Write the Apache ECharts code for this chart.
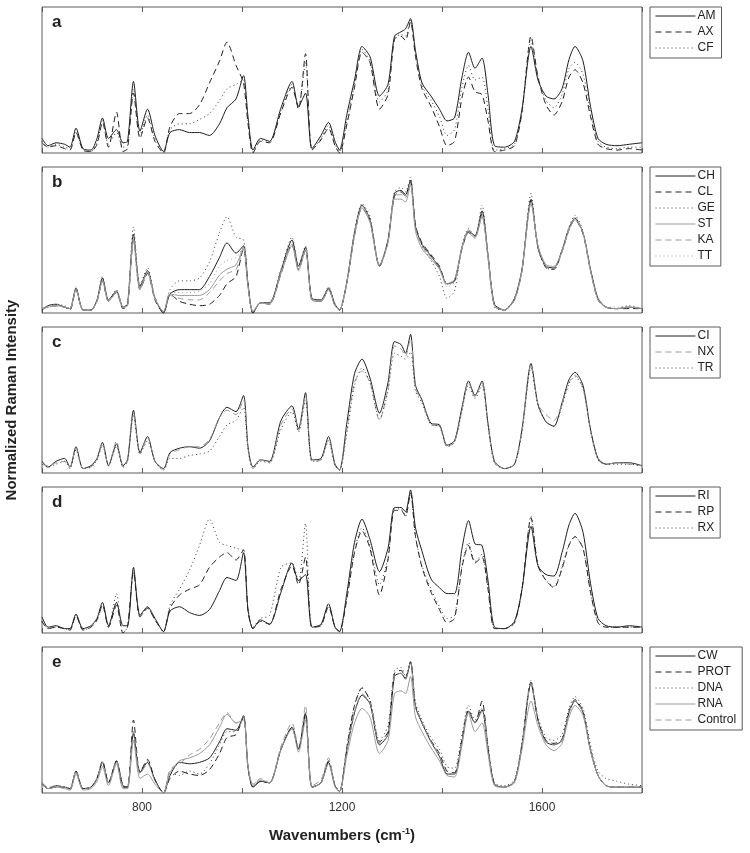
<!DOCTYPE html>
<html>
<head>
<meta charset="utf-8">
<script src="https://cdn.jsdelivr.net/npm/echarts@6/dist/echarts.min.js"></script>
<style>
  html, body { margin: 0; padding: 0; background: #fff; }
  #chart { width: 750px; height: 853px; }
</style>
</head>
<body>
<div id="chart"></div>
<script>
// wavenumber sample points shared by every spectrum (cm-1)
const WN = [
  600, 612, 628, 645, 656, 668, 682, 698, 710, 721,
  733, 749, 762, 771, 783, 796, 811, 826, 843, 856,
  875, 895, 915, 935, 955, 970, 988, 1003, 1012, 1022,
  1037, 1055, 1078, 1100, 1113, 1127, 1140, 1158, 1173, 1186,
  1195, 1210, 1225, 1240, 1256, 1275, 1292, 1305, 1318, 1327,
  1337, 1347, 1360, 1378, 1395, 1410, 1425, 1440, 1453, 1466,
  1480, 1492, 1505, 1525, 1545, 1560, 1578, 1592, 1608, 1624,
  1640, 1654, 1666, 1682, 1697, 1712, 1728, 1750, 1775, 1800
];
const X_TICK_LABELS = [800, 1200, 1600];
const PANEL_LABELS = ['a', 'b', 'c', 'd', 'e'];

// panel a
const AM = [0.10,0.05,0.07,0.06,0.04,0.17,0.03,0.02,0.10,0.24, 0.10,0.16,0.07,0.08,0.49,0.15,0.30,0.12,0.01,0.14,
  0.16,0.14,0.14,0.12,0.20,0.31,0.37,0.53,0.25,0.02, 0.10,0.08,0.31,0.49,0.32,0.41,0.03,0.12,0.21,0.08,
  0.02,0.27,0.50,0.73,0.66,0.39,0.47,0.80,0.83,0.85, 0.92,0.70,0.48,0.39,0.30,0.22,0.24,0.52,0.69,0.58,
  0.65,0.40,0.05,0.04,0.08,0.30,0.73,0.50,0.39,0.37, 0.44,0.64,0.73,0.63,0.32,0.10,0.06,0.05,0.06,0.07];
const AX = [0.07,0.04,0.05,0.03,0.02,0.14,0.02,0.01,0.06,0.21, 0.04,0.28,0.01,0.03,0.41,0.10,0.24,0.08,0.00,0.18,
  0.27,0.27,0.33,0.48,0.63,0.76,0.60,0.48,0.20,0.00, 0.08,0.07,0.28,0.45,0.30,0.68,0.02,0.09,0.17,0.05,
  0.00,0.20,0.45,0.69,0.62,0.30,0.40,0.78,0.80,0.77, 0.90,0.66,0.44,0.32,0.18,0.05,0.08,0.38,0.52,0.42,
  0.40,0.22,0.01,0.02,0.05,0.28,0.80,0.52,0.33,0.26, 0.35,0.52,0.57,0.48,0.25,0.06,0.03,0.02,0.03,0.02];
const CF = [0.08,0.04,0.06,0.04,0.03,0.15,0.02,0.01,0.07,0.22, 0.06,0.14,0.04,0.05,0.44,0.12,0.26,0.10,0.01,0.16,
  0.20,0.20,0.23,0.27,0.36,0.44,0.47,0.50,0.22,0.01, 0.09,0.08,0.29,0.47,0.31,0.62,0.02,0.10,0.19,0.06,
  0.01,0.22,0.47,0.71,0.63,0.35,0.43,0.79,0.81,0.80, 0.91,0.68,0.46,0.36,0.25,0.12,0.16,0.45,0.60,0.50,
  0.52,0.30,0.02,0.03,0.06,0.29,0.77,0.52,0.36,0.31, 0.40,0.58,0.62,0.54,0.28,0.08,0.04,0.03,0.04,0.04];

// panel b
const CH = [0.02,0.05,0.06,0.04,0.03,0.17,0.02,0.02,0.09,0.24, 0.09,0.15,0.04,0.06,0.54,0.18,0.29,0.10,0.00,0.13,
  0.16,0.16,0.16,0.25,0.38,0.48,0.41,0.46,0.20,0.00, 0.07,0.07,0.29,0.50,0.32,0.45,0.10,0.09,0.17,0.06,
  0.02,0.22,0.55,0.74,0.64,0.32,0.50,0.82,0.84,0.81, 0.91,0.59,0.47,0.39,0.31,0.20,0.22,0.45,0.56,0.53,
  0.70,0.40,0.06,0.02,0.10,0.30,0.78,0.45,0.32,0.31, 0.43,0.58,0.65,0.55,0.30,0.10,0.04,0.03,0.04,0.03];
const CL = [0.03,0.04,0.05,0.04,0.02,0.16,0.02,0.02,0.08,0.22, 0.08,0.14,0.03,0.05,0.50,0.16,0.27,0.09,0.00,0.13,
  0.08,0.06,0.05,0.06,0.12,0.20,0.25,0.44,0.19,0.00, 0.07,0.06,0.27,0.47,0.30,0.43,0.09,0.08,0.16,0.05,
  0.02,0.21,0.53,0.72,0.63,0.32,0.49,0.80,0.83,0.80, 0.90,0.60,0.48,0.40,0.32,0.20,0.22,0.44,0.55,0.52,
  0.68,0.39,0.05,0.02,0.09,0.29,0.77,0.45,0.31,0.30, 0.42,0.57,0.64,0.54,0.29,0.09,0.04,0.03,0.03,0.03];
const GE = [0.03,0.05,0.06,0.05,0.03,0.18,0.02,0.02,0.09,0.25, 0.09,0.16,0.04,0.06,0.59,0.19,0.31,0.11,0.00,0.16,
  0.22,0.22,0.24,0.35,0.55,0.66,0.52,0.50,0.20,0.00, 0.07,0.07,0.30,0.52,0.33,0.46,0.09,0.09,0.18,0.06,
  0.02,0.22,0.56,0.75,0.66,0.33,0.50,0.83,0.86,0.83, 0.93,0.60,0.46,0.36,0.25,0.10,0.15,0.46,0.58,0.52,
  0.74,0.38,0.04,0.02,0.10,0.30,0.82,0.44,0.31,0.30, 0.43,0.59,0.67,0.56,0.30,0.09,0.04,0.03,0.05,0.03];
const ST = [0.03,0.04,0.05,0.04,0.03,0.16,0.02,0.02,0.08,0.22, 0.08,0.14,0.04,0.05,0.50,0.16,0.28,0.10,0.01,0.13,
  0.12,0.12,0.12,0.16,0.26,0.30,0.33,0.45,0.18,0.01, 0.07,0.06,0.27,0.46,0.29,0.43,0.09,0.08,0.16,0.05,
  0.02,0.21,0.53,0.72,0.62,0.32,0.48,0.78,0.78,0.76, 0.88,0.56,0.44,0.37,0.30,0.20,0.23,0.45,0.57,0.52,
  0.66,0.38,0.05,0.02,0.09,0.29,0.75,0.46,0.33,0.32, 0.42,0.57,0.64,0.55,0.29,0.09,0.04,0.03,0.04,0.03];
const KA = [0.03,0.04,0.05,0.04,0.03,0.16,0.02,0.02,0.08,0.22, 0.08,0.14,0.04,0.05,0.51,0.17,0.28,0.10,0.01,0.12,
  0.10,0.09,0.09,0.14,0.22,0.27,0.30,0.44,0.18,0.01, 0.07,0.06,0.28,0.47,0.30,0.44,0.09,0.08,0.16,0.05,
  0.02,0.22,0.54,0.73,0.63,0.33,0.49,0.80,0.81,0.79, 0.89,0.58,0.46,0.38,0.30,0.19,0.22,0.44,0.55,0.51,
  0.67,0.39,0.05,0.02,0.09,0.29,0.76,0.46,0.32,0.31, 0.42,0.58,0.65,0.55,0.29,0.09,0.04,0.03,0.04,0.03];
const TT = [0.03,0.05,0.06,0.04,0.03,0.17,0.02,0.02,0.09,0.23, 0.09,0.15,0.04,0.06,0.52,0.17,0.29,0.10,0.01,0.14,
  0.14,0.14,0.15,0.20,0.32,0.36,0.38,0.45,0.19,0.01, 0.07,0.07,0.29,0.48,0.31,0.44,0.09,0.09,0.17,0.06,
  0.02,0.22,0.55,0.74,0.64,0.33,0.50,0.81,0.83,0.80, 0.90,0.60,0.47,0.39,0.31,0.18,0.21,0.45,0.56,0.52,
  0.69,0.39,0.05,0.02,0.10,0.30,0.78,0.46,0.32,0.31, 0.43,0.58,0.66,0.55,0.30,0.10,0.04,0.04,0.05,0.03];

// panel c
const CI = [0.08,0.04,0.08,0.10,0.04,0.18,0.03,0.05,0.10,0.21, 0.05,0.20,0.05,0.09,0.43,0.14,0.25,0.08,0.03,0.14,
  0.17,0.18,0.17,0.22,0.38,0.45,0.42,0.53,0.18,0.04, 0.09,0.08,0.36,0.46,0.30,0.55,0.09,0.10,0.25,0.06,
  0.02,0.35,0.68,0.78,0.65,0.41,0.62,0.90,0.88,0.82, 0.95,0.60,0.50,0.34,0.33,0.19,0.22,0.45,0.63,0.53,
  0.63,0.34,0.08,0.03,0.06,0.30,0.75,0.47,0.35,0.32, 0.48,0.64,0.69,0.60,0.30,0.10,0.06,0.07,0.07,0.05];
const NX = [0.06,0.05,0.07,0.08,0.04,0.17,0.03,0.04,0.09,0.20, 0.05,0.22,0.04,0.08,0.41,0.13,0.24,0.08,0.02,0.13,
  0.16,0.18,0.18,0.23,0.38,0.43,0.40,0.50,0.17,0.03, 0.09,0.07,0.33,0.44,0.29,0.53,0.08,0.09,0.23,0.05,
  0.02,0.30,0.62,0.70,0.62,0.36,0.58,0.87,0.85,0.80, 0.92,0.58,0.49,0.33,0.32,0.18,0.21,0.43,0.62,0.52,
  0.62,0.33,0.07,0.03,0.06,0.29,0.74,0.47,0.40,0.36, 0.47,0.62,0.67,0.58,0.29,0.09,0.06,0.07,0.06,0.05];
const TR = [0.06,0.04,0.06,0.08,0.03,0.16,0.03,0.04,0.09,0.19, 0.05,0.18,0.04,0.08,0.40,0.13,0.22,0.08,0.02,0.10,
  0.10,0.12,0.13,0.15,0.25,0.33,0.36,0.45,0.16,0.03, 0.08,0.07,0.30,0.42,0.28,0.50,0.08,0.09,0.22,0.05,
  0.02,0.28,0.60,0.72,0.62,0.37,0.56,0.82,0.80,0.78, 0.83,0.56,0.48,0.33,0.32,0.18,0.21,0.43,0.60,0.51,
  0.60,0.33,0.07,0.03,0.06,0.28,0.72,0.46,0.35,0.32, 0.46,0.61,0.66,0.58,0.29,0.09,0.06,0.06,0.06,0.05];

// panel d
const RI = [0.11,0.04,0.05,0.03,0.03,0.13,0.03,0.05,0.10,0.21, 0.05,0.21,0.05,0.05,0.45,0.12,0.18,0.10,0.01,0.15,
  0.18,0.14,0.12,0.16,0.29,0.38,0.36,0.55,0.16,0.03, 0.09,0.06,0.28,0.48,0.36,0.40,0.04,0.06,0.20,0.04,
  0.01,0.28,0.62,0.78,0.64,0.42,0.58,0.86,0.86,0.83, 0.98,0.72,0.56,0.37,0.31,0.27,0.27,0.58,0.77,0.61,
  0.60,0.36,0.04,0.03,0.08,0.30,0.73,0.46,0.40,0.39, 0.55,0.74,0.82,0.69,0.34,0.10,0.05,0.04,0.05,0.04];
const RP = [0.08,0.03,0.04,0.03,0.02,0.12,0.02,0.04,0.09,0.19, 0.04,0.19,0.00,0.04,0.42,0.11,0.17,0.09,0.01,0.17,
  0.26,0.30,0.33,0.45,0.52,0.55,0.50,0.57,0.15,0.03, 0.08,0.06,0.30,0.46,0.33,0.52,0.04,0.05,0.18,0.04,
  0.01,0.24,0.55,0.70,0.58,0.26,0.50,0.84,0.84,0.80, 0.96,0.66,0.45,0.28,0.16,0.07,0.10,0.45,0.60,0.48,
  0.52,0.30,0.03,0.03,0.07,0.30,0.79,0.46,0.36,0.31, 0.44,0.60,0.66,0.58,0.28,0.07,0.04,0.04,0.04,0.04];
const RX = [0.08,0.03,0.04,0.03,0.02,0.12,0.02,0.04,0.09,0.19, 0.04,0.27,0.00,0.04,0.43,0.11,0.17,0.09,0.01,0.19,
  0.30,0.43,0.60,0.78,0.62,0.60,0.58,0.56,0.16,0.04, 0.10,0.12,0.45,0.48,0.35,0.75,0.04,0.05,0.18,0.04,
  0.01,0.25,0.56,0.72,0.60,0.33,0.52,0.85,0.85,0.80, 0.96,0.66,0.46,0.30,0.18,0.10,0.12,0.46,0.62,0.49,
  0.54,0.31,0.03,0.03,0.07,0.30,0.80,0.47,0.36,0.32, 0.45,0.61,0.66,0.58,0.28,0.07,0.04,0.04,0.04,0.04];

// panel e
const CW = [0.07,0.03,0.05,0.04,0.03,0.15,0.03,0.04,0.10,0.21, 0.07,0.22,0.05,0.04,0.41,0.14,0.21,0.09,0.00,0.12,
  0.21,0.20,0.21,0.24,0.35,0.44,0.43,0.53,0.18,0.04, 0.08,0.07,0.30,0.45,0.30,0.54,0.04,0.07,0.21,0.05,
  0.01,0.30,0.55,0.67,0.61,0.33,0.40,0.80,0.82,0.78, 0.90,0.59,0.48,0.35,0.25,0.13,0.13,0.35,0.56,0.48,
  0.57,0.30,0.06,0.04,0.08,0.33,0.75,0.50,0.35,0.33, 0.36,0.55,0.63,0.55,0.29,0.12,0.05,0.04,0.04,0.04];
const PROT = [0.06,0.03,0.04,0.04,0.02,0.15,0.03,0.04,0.10,0.22, 0.07,0.22,0.04,0.04,0.50,0.14,0.23,0.09,0.00,0.10,
  0.15,0.13,0.12,0.16,0.27,0.38,0.40,0.52,0.17,0.04, 0.08,0.07,0.30,0.45,0.30,0.55,0.04,0.07,0.22,0.05,
  0.01,0.32,0.60,0.72,0.63,0.35,0.42,0.82,0.84,0.79, 0.90,0.60,0.48,0.36,0.27,0.15,0.14,0.37,0.57,0.48,
  0.63,0.31,0.06,0.04,0.08,0.33,0.76,0.50,0.36,0.34, 0.37,0.56,0.64,0.56,0.30,0.12,0.05,0.04,0.04,0.04];
const DNA = [0.06,0.03,0.05,0.04,0.03,0.15,0.03,0.04,0.10,0.21, 0.07,0.21,0.05,0.04,0.42,0.14,0.22,0.09,0.00,0.14,
  0.12,0.15,0.13,0.20,0.33,0.42,0.42,0.52,0.17,0.04, 0.08,0.07,0.30,0.45,0.30,0.52,0.04,0.07,0.21,0.05,
  0.01,0.32,0.60,0.72,0.64,0.36,0.46,0.84,0.86,0.80, 0.90,0.62,0.50,0.38,0.30,0.18,0.17,0.40,0.60,0.50,
  0.58,0.33,0.07,0.05,0.09,0.35,0.77,0.52,0.38,0.36, 0.40,0.58,0.66,0.58,0.33,0.15,0.10,0.08,0.06,0.05];
const RNA = [0.06,0.03,0.04,0.03,0.02,0.13,0.02,0.03,0.08,0.18, 0.05,0.20,0.03,0.03,0.36,0.10,0.13,0.06,0.00,0.14,
  0.22,0.24,0.27,0.33,0.45,0.54,0.48,0.50,0.18,0.06, 0.09,0.07,0.30,0.44,0.28,0.50,0.04,0.07,0.20,0.04,
  0.01,0.26,0.48,0.58,0.52,0.27,0.36,0.68,0.70,0.68, 0.80,0.52,0.42,0.31,0.22,0.12,0.11,0.33,0.55,0.42,
  0.48,0.27,0.05,0.04,0.07,0.30,0.63,0.46,0.33,0.29, 0.34,0.52,0.60,0.53,0.29,0.12,0.05,0.04,0.04,0.04];
const CONTROL = [0.07,0.04,0.05,0.04,0.03,0.15,0.03,0.04,0.10,0.21, 0.07,0.22,0.05,0.05,0.42,0.13,0.20,0.08,0.00,0.16,
  0.20,0.26,0.30,0.37,0.48,0.55,0.48,0.52,0.18,0.05, 0.10,0.07,0.32,0.48,0.31,0.60,0.05,0.09,0.24,0.05,
  0.01,0.30,0.55,0.68,0.62,0.34,0.40,0.80,0.82,0.78, 0.90,0.59,0.48,0.35,0.25,0.14,0.13,0.35,0.56,0.48,
  0.56,0.30,0.06,0.04,0.08,0.33,0.75,0.50,0.35,0.33, 0.36,0.55,0.63,0.55,0.29,0.12,0.05,0.04,0.04,0.04];

const STYLES = {
  darkSolid:  { color: '#1e1e1e', type: 'solid' },
  darkDash:   { color: '#1e1e1e', type: [6, 4] },
  darkDot:    { color: '#3a3a3a', type: [1, 3] },
  graySolid:  { color: '#9a9a9a', type: 'solid' },
  grayDash:   { color: '#9a9a9a', type: [6, 4] },
  grayDot:    { color: '#9a9a9a', type: [1, 3] }
};

const panels = [
  [['AM', AM, 'darkSolid'], ['AX', AX, 'darkDash'], ['CF', CF, 'darkDot']],
  [['CH', CH, 'darkSolid'], ['CL', CL, 'darkDash'], ['GE', GE, 'darkDot'],
   ['ST', ST, 'graySolid'], ['KA', KA, 'grayDash'], ['TT', TT, 'grayDot']],
  [['CI', CI, 'darkSolid'], ['NX', NX, 'grayDash'], ['TR', TR, 'darkDot']],
  [['RI', RI, 'darkSolid'], ['RP', RP, 'darkDash'], ['RX', RX, 'darkDot']],
  [['CW', CW, 'darkSolid'], ['PROT', PROT, 'darkDash'], ['DNA', DNA, 'darkDot'],
   ['RNA', RNA, 'graySolid'], ['Control', CONTROL, 'grayDash']]
];

const GRID_LEFT = 42, GRID_W = 600, GRID_H = 146, GRID_STEP = 160, GRID_TOP = 7;

const chart = echarts.init(document.getElementById('chart'), null, { renderer: 'canvas' });

const grids = [], xAxes = [], yAxes = [], series = [], legends = [], graphics = [];
const n = panels.length;

panels.forEach((list, p) => {
  const top = GRID_TOP + p * GRID_STEP;
  const last = p === n - 1;
  grids.push({ left: GRID_LEFT, top: top, width: GRID_W, height: GRID_H,
    show: true, borderColor: '#5a5a5a', borderWidth: 1, backgroundColor: '#fff' });
  xAxes.push({
    gridIndex: p, type: 'value', min: 600, max: 1800, interval: 200, position: 'bottom',
    axisLine: { show: false }, splitLine: { show: false },
    axisTick: { show: true, inside: true, length: 5, lineStyle: { color: '#5a5a5a' } },
    axisLabel: {
      show: last, color: '#333', fontSize: 12, margin: 9, fontFamily: 'Liberation Sans, Arial',
      formatter: v => X_TICK_LABELS.includes(v) ? String(v) : ''
    },
    name: last ? 'Wavenumbers (cm{sup|-1})' : '',
    nameLocation: 'middle', nameGap: 34,
    nameTextStyle: {
      fontFamily: 'Liberation Sans, Arial', fontWeight: 'bold', fontSize: 15, color: '#222',
      rich: { sup: { fontSize: 9, fontWeight: 'bold', color: '#222', verticalAlign: 'top', padding: [0, 0, 9, 0] } }
    }
  });
  yAxes.push({ gridIndex: p, type: 'value', min: 0, max: 1, show: false });
  list.forEach(([name, vals, styleKey]) => {
    const st = STYLES[styleKey];
    series.push({
      name: name, type: 'line', xAxisIndex: p, yAxisIndex: p,
      data: WN.map((x, i) => [x, vals[i]]),
      symbol: 'none', smooth: 0.25, animation: false,
      lineStyle: { color: st.color, width: 1, type: st.type },
      itemStyle: { color: st.color }
    });
  });
  legends.push({
    data: list.map(s => s[0]), orient: 'vertical', left: 650, top: top,
    backgroundColor: '#fff', borderColor: '#5a5a5a', borderWidth: 1,
    padding: [3, 6, 4, 5], itemGap: 4, itemWidth: 40, itemHeight: 13,
    itemStyle: { opacity: 0 },
    lineStyle: { width: 1 },
    textStyle: { fontFamily: 'Liberation Sans, Arial', fontSize: 12, color: '#222', padding: [0, 0, 0, -3] },
    selectedMode: false
  });
  graphics.push({
    type: 'text', x: 52, y: top + 15,
    style: { text: PANEL_LABELS[p], font: 'bold 17px Liberation Sans, Arial', fill: '#222',
      align: 'left', verticalAlign: 'middle' }
  });
});

// top-edge ticks (mirrored axis on each panel)
panels.forEach((_, p) => {
  xAxes.push({
    gridIndex: p, type: 'value', min: 600, max: 1800, interval: 200, position: 'top',
    axisLine: { show: false }, splitLine: { show: false }, axisLabel: { show: false },
    axisTick: { show: true, inside: true, length: 5, lineStyle: { color: '#5a5a5a' } }
  });
});

graphics.push({
  type: 'text', x: 12, y: 400, rotation: Math.PI / 2,
  style: { text: 'Normalized Raman Intensity', font: 'bold 15px Liberation Sans, Arial', fill: '#222',
    align: 'center', verticalAlign: 'middle' }
});

chart.setOption({
  animation: false,
  backgroundColor: '#fff',
  grid: grids,
  xAxis: xAxes,
  yAxis: yAxes,
  legend: legends,
  series: series,
  graphic: graphics
});
</script>
</body>
</html>
